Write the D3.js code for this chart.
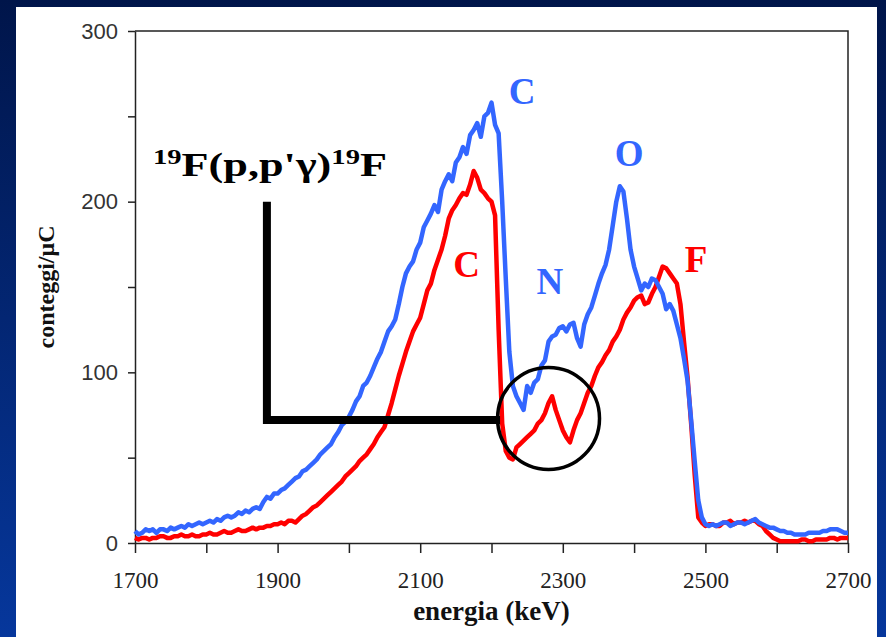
<!DOCTYPE html>
<html>
<head>
<meta charset="utf-8">
<script src="https://cdn.jsdelivr.net/npm/d3@7"></script>
<style>
  html, body { margin: 0; padding: 0; background: #fff; }
  svg { display: block; }
</style>
</head>
<body>
<svg id="chart" width="886" height="637"></svg>
<script>
// ---------- data ----------
const energy = [
  1700,1705,1710,1715,1720,1725,1730,1735,1740,1745,1750,1755,1760,1765,1770,1775,1780,1785,1790,1795,
  1800,1805,1810,1815,1820,1825,1830,1835,1840,1845,1850,1855,1860,1865,1870,1875,1880,1885,1890,1895,
  1900,1905,1910,1915,1920,1925,1930,1935,1940,1945,1950,1955,1960,1965,1970,1975,1980,1985,1990,1995,
  2000,2005,2010,2015,2020,2025,2030,2035,2040,2045,2050,2055,2060,2065,2070,2075,2080,2085,2090,2095,
  2100,2105,2110,2115,2120,2125,2130,2135,2140,2145,2150,2155,2160,2165,2170,2175,2180,2185,2190,2195,
  2200,2205,2210,2215,2220,2225,2230,2235,2240,2245,2250,2255,2260,2265,2270,2275,2280,2285,2290,2295,
  2300,2305,2310,2315,2320,2325,2330,2335,2340,2345,2350,2355,2360,2365,2370,2375,2380,2385,2390,2395,
  2400,2405,2410,2415,2420,2425,2430,2435,2440,2445,2450,2455,2460,2465,2470,2475,2480,2485,2490,2495,
  2500,2505,2510,2515,2520,2525,2530,2535,2540,2545,2550,2555,2560,2565,2570,2575,2580,2585,2590,2595,
  2600,2605,2610,2615,2620,2625,2630,2635,2640,2645,2650,2655,2660,2665,2670,2675,2680,2685,2690,2695,
  2700];

const blueCounts = [
  7,5,6,8,7,8,6,8,8,7, 9,8,9,10,9,11,10,11,12,11,
  12,13,12,14,13,15,16,15,16,18, 17,19,18,20,21,20,24,27,26,29,
  29,31,32,34,36,38,39,42,43,45, 47,49,52,54,56,58,62,65,69,71,
  74,78,83,86,92,94,98,103,108,112, 118,124,127,131,140,150,158,162,165,172,
  176,185,189,193,198,194,207,212,216,212, 223,226,232,228,239,242,246,238,250,252,
  258,245,240,200,155,112,92,86,82,78, 92,88,94,96,104,107,118,121,122,126,
  127,124,128,129,120,115,128,134,138,145, 152,158,163,172,186,200,209,206,190,172,
  162,155,148,152,150,155,154,150,146,137, 140,136,128,120,108,95,72,48,25,15,
  11,10,11,10,11,12,12,10,11,12, 12,11,12,13,14,12,11,10,9,9,
  8,7,7,6,6,5,5,5,5,6, 6,6,6,7,7,8,8,8,7,6,
  6];

const redCounts = [
  3,2,3,3,2,3,3,4,4,3, 3,4,4,5,4,4,5,4,4,5,
  5,6,5,5,6,7,6,6,7,8, 7,7,8,9,8,9,9,10,10,11,
  11,12,11,13,13,12,14,16,17,19, 21,22,24,26,28,30,32,34,36,39,
  41,43,45,48,50,52,55,58,62,65, 68,75,82,90,98,105,112,118,124,128,
  132,140,148,152,160,166,172,180,190,195, 198,202,205,204,210,218,214,207,205,202,
  200,192,125,70,54,50,49,56,58,60, 62,64,66,70,72,76,82,86,78,72,
  66,62,59,66,72,76,82,88,92,98, 103,106,110,113,118,121,125,131,135,138,
  142,144,145,140,141,146,150,156,162,161, 158,155,152,140,118,97,70,40,15,12,
  10,11,11,10,10,12,12,13,11,12, 12,13,12,13,13,11,10,7,5,3,
  2,1,1,1,1,1,1,2,2,1, 1,2,2,2,2,3,3,2,3,3,
  3];

const xMajorTicks = [1700,1900,2100,2300,2500,2700];
const xAllTicks = [1700,1800,1900,2000,2100,2200,2300,2400,2500,2600,2700];
const yMajorTicks = [0,100,200,300];
const yAllTicks = [0,50,100,150,200,250,300];

// peak labels: [text, energy, counts(baseline), series]
const peakLabels = [
  ["C", 2243, 257, "blue"],
  ["O", 2393, 221, "blue"],
  ["N", 2282, 146, "blue"],
  ["C", 2165, 156, "red"],
  ["F", 2487, 159, "red"]
];
// L-shaped pointer (energy, counts) and circle (energy, counts, radius in keV)
const pointerPath = [[1885, 200], [1885, 72], [2212, 72]];
const circleMark = [2280, 73, 71.5];

// ---------- drawing ----------
const W = 886, H = 637;
const svg = d3.select("#chart");
const BLUE = "#3366ff", RED = "#ff0000";

const defs = svg.append("defs");
const grad = defs.append("linearGradient").attr("id", "bg")
  .attr("x1", 0).attr("y1", 0).attr("x2", 0).attr("y2", 1);
grad.append("stop").attr("offset", "0%").attr("stop-color", "#00154a");
grad.append("stop").attr("offset", "100%").attr("stop-color", "#06379c");

svg.append("rect").attr("width", W).attr("height", H).attr("fill", "url(#bg)");
svg.append("rect").attr("x", 16).attr("y", 7).attr("width", 861).attr("height", H - 7).attr("fill", "#ffffff");

const x = d3.scaleLinear().domain([1700, 2700]).range([135, 848]);
const y = d3.scaleLinear().domain([0, 300]).range([543, 31]);

// frame (top + right)
svg.append("path")
  .attr("d", `M${x(1700)},${y(300)}H${x(2700)}V${y(0)}`)
  .attr("fill", "none").attr("stroke", "#222").attr("stroke-width", 1.5);

// x axis
const gx = svg.append("g").attr("transform", `translate(0,${y(0)})`)
  .call(d3.axisBottom(x).tickValues(xAllTicks).tickSize(10).tickSizeOuter(0)
    .tickFormat(d => xMajorTicks.includes(d) ? d : ""));
gx.select(".domain").attr("stroke", "#222").attr("stroke-width", 1.5);
gx.selectAll(".tick line").attr("stroke", "#222").attr("stroke-width", 1.5);
gx.selectAll(".tick text")
  .attr("y", 45).attr("dy", 0)
  .attr("font-family", "'Liberation Serif', 'Times New Roman', serif")
  .attr("font-size", 23).attr("fill", "#222");

// y axis
const gy = svg.append("g").attr("transform", `translate(${x(1700)},0)`)
  .call(d3.axisLeft(y).tickValues(yAllTicks).tickSize(7).tickSizeOuter(0).tickPadding(10)
    .tickFormat(d => yMajorTicks.includes(d) ? d : ""));
gy.select(".domain").attr("stroke", "#222").attr("stroke-width", 1.5);
gy.selectAll(".tick line").attr("stroke", "#222").attr("stroke-width", 1.5);
gy.selectAll(".tick text")
  .attr("font-family", "'Liberation Sans', Arial, sans-serif")
  .attr("font-size", 22).attr("fill", "#333");

// axis titles
svg.append("text")
  .attr("x", (x(1700) + x(2700)) / 2).attr("y", 620)
  .attr("text-anchor", "middle")
  .attr("font-family", "'Liberation Serif', 'Times New Roman', serif")
  .attr("font-weight", "bold").attr("font-size", 27).attr("fill", "#111")
  .text("energia (keV)");

svg.append("text")
  .attr("transform", "translate(54,287) rotate(-90)")
  .attr("text-anchor", "middle")
  .attr("font-family", "'Liberation Serif', 'Times New Roman', serif")
  .attr("font-weight", "bold").attr("font-size", 24).attr("fill", "#111")
  .text("conteggi/μC");

// curves
const line = d3.line().x((d, i) => x(energy[i])).y(d => y(d)).curve(d3.curveLinear);
svg.append("path").datum(redCounts).attr("d", line)
  .attr("fill", "none").attr("stroke", RED).attr("stroke-width", 4.5).attr("stroke-linejoin", "round");
svg.append("path").datum(blueCounts).attr("d", line)
  .attr("fill", "none").attr("stroke", BLUE).attr("stroke-width", 4.5).attr("stroke-linejoin", "round");

// pointer L and circle
svg.append("path")
  .attr("d", d3.line().x(d => x(d[0])).y(d => y(d[1]))(pointerPath))
  .attr("fill", "none").attr("stroke", "#000").attr("stroke-width", 8).attr("stroke-linejoin", "miter");
svg.append("circle")
  .attr("cx", x(circleMark[0])).attr("cy", y(circleMark[1]))
  .attr("r", x(1700 + circleMark[2]) - x(1700))
  .attr("fill", "none").attr("stroke", "#000").attr("stroke-width", 3.5);

// peak labels
svg.selectAll(".peak").data(peakLabels).enter().append("text")
  .attr("class", "peak")
  .attr("x", d => x(d[1])).attr("y", d => y(d[2]))
  .attr("text-anchor", "middle")
  .attr("font-family", "'Liberation Serif', 'Times New Roman', serif")
  .attr("font-weight", "bold").attr("font-size", 37)
  .attr("fill", d => d[3] === "blue" ? BLUE : RED)
  .text(d => d[0]);

// reaction title
const rt = svg.append("text")
  .attr("x", 153).attr("y", 176)
  .attr("font-family", "'Liberation Serif', 'Times New Roman', serif")
  .attr("font-weight", "bold").attr("font-size", 34).attr("fill", "#000")
  .attr("textLength", 234).attr("lengthAdjust", "spacingAndGlyphs");
rt.append("tspan").attr("font-size", 22).attr("dy", -12).text("19");
rt.append("tspan").attr("dy", 12).text("F(p,p'γ)");
rt.append("tspan").attr("font-size", 22).attr("dy", -12).text("19");
rt.append("tspan").attr("dy", 12).text("F");
</script>
</body>
</html>
